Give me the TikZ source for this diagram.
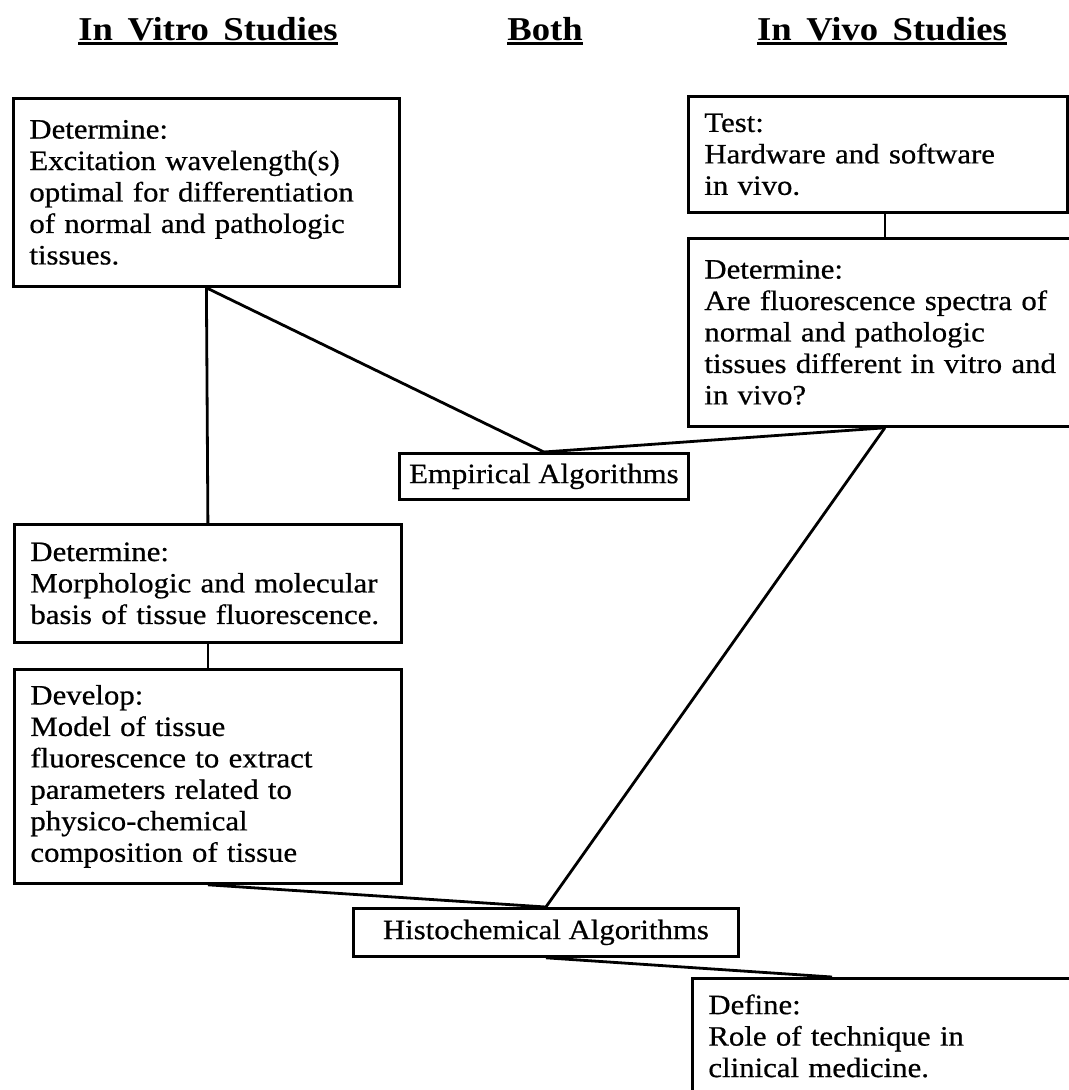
\documentclass[tikz,border=0pt]{standalone}
\usepackage{fontspec}
\setmainfont{Liberation Serif}[FakeStretch=1.1]
\newfontfamily\bxfam{Liberation Serif}[FakeStretch=1.1,FakeBold=0.6]
\usetikzlibrary{calc}
\newcommand{\bxfont}{\bxfam\fontsize{21}{23.6}\selectfont}
\newcommand{\hdfont}{\fontsize{25}{30}\selectfont\bfseries}
\begin{document}
\begin{tikzpicture}[x=0.75pt,y=-0.75pt,
  box/.style={draw,line width=2.1pt,rectangle,anchor=north west,inner xsep=12pt,inner ysep=0pt,align=left,font=\bxfont},
  lbl/.style={draw,line width=2.1pt,rectangle,anchor=north west,inner sep=0pt,font=\bxfont},
  hdr/.style={anchor=base,inner sep=0pt,font=\hdfont},
  uline/.style={line width=2pt},
  link/.style={line width=2.1pt}]
\useasboundingbox (0,0) rectangle (1069,1090);
\clip (0,0) rectangle (1069,1090);
% headers
\node[hdr] (h1) at (208,40) {In\hspace{4pt} Vitro\hspace{4pt} Studies};
\node[hdr] (h2) at (545,40) {Both};
\node[hdr] (h3) at (882,40) {In\hspace{4pt} Vivo\hspace{4pt} Studies};
\draw[uline] ([yshift=-2.5pt]h1.base west) -- ([yshift=-2.5pt]h1.base east);
\draw[uline] ([yshift=-2.5pt]h2.base west) -- ([yshift=-2.5pt]h2.base east);
\draw[uline] ([yshift=-2.5pt]h3.base west) -- ([yshift=-2.5pt]h3.base east);
% left column
\node[box,minimum width=289.5pt,minimum height=141pt,text width=265.5pt] (b1) at (12,97)
  {Determine:\\Excitation wavelength(s)\\optimal for differentiation\\of normal and pathologic\\tissues.};
\node[box,minimum width=290.25pt,minimum height=88.5pt,text width=266.25pt] (b4) at (13,523)
  {Determine:\\Morphologic and molecular\\basis of tissue fluorescence.};
\node[box,minimum width=290.25pt,minimum height=160.5pt,text width=266.25pt] (b5) at (13,668)
  {Develop:\\Model of tissue\\fluorescence to extract\\parameters related to\\physico-chemical\\composition of tissue};
% right column
\node[box,minimum width=284.25pt,minimum height=87pt,text width=260.25pt] (test) at (687,95)
  {Test:\\Hardware and software\\in vivo.};
\node[box,minimum width=294.75pt,minimum height=141pt,text width=270.75pt] (b3) at (687,237)
  {Determine:\\Are fluorescence spectra of\\normal and pathologic\\tissues different in vitro and\\in vivo?};
\node[box,inner ysep=12pt,minimum width=291.75pt,text width=267.75pt] (def) at (691,977)
  {Define:\\Role of technique in\\clinical medicine.\\[14pt]\ };
% middle
\node[lbl,minimum width=216.75pt,minimum height=34.5pt] (emp) at (398,452) {Empirical Algorithms};
\node[lbl,minimum width=288.75pt,minimum height=36pt] (hist) at (352,907) {Histochemical Algorithms};
\coordinate (dtop) at ($(def.north west)!0.36!(def.north east)$);
% connectors
\draw[link] (b1.south) -- (b4.north);
\draw[link] (b1.south) -- (emp.north);
\draw[link] (b3.north) -- (b3.north |- test.south);
\draw[link] (b3.south) -- (emp.north);
\draw[link] (b3.south) -- (hist.north);
\draw[link] (b4.south) -- (b5.north);
\draw[link] (b5.south) -- (hist.north);
\draw[link] (hist.south) -- (dtop);
\end{tikzpicture}
\end{document}
